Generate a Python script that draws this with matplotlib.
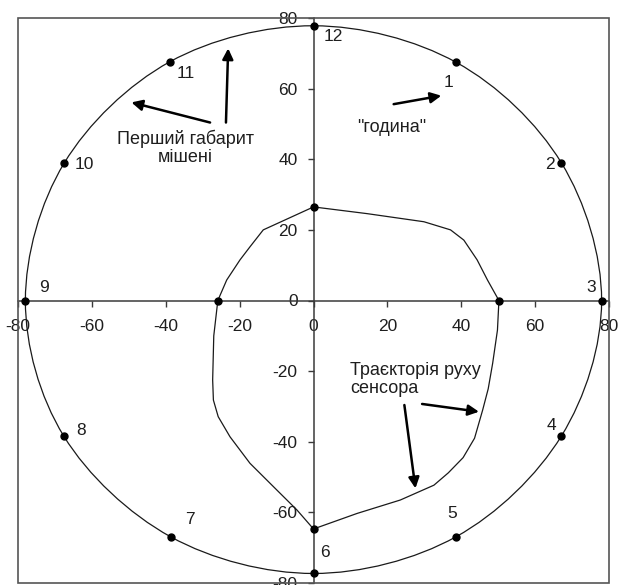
import matplotlib
matplotlib.use("Agg")
import matplotlib.pyplot as plt
from matplotlib.path import Path
from matplotlib.patches import PathPatch, Rectangle

plt.rcParams['font.family'] = ['Liberation Sans', 'DejaVu Sans']

# Target outline: one point per clock "hour"
hour_labels = ['12', '1', '2', '3', '4', '5', '6', '7', '8', '9', '10', '11']
hour_x = [0.0, 38.7, 67.1, 78.0, 67.1, 38.6, 0.0, -38.7, -67.6, -78.0, -67.5, -38.9]
hour_y = [77.8, 67.4, 39.0, 0.0, -38.4, -66.9, -77.3, -66.9, -38.4, 0.0, 38.9, 67.6]
# where each hour number is written
hour_text_x = [5.4, 36.5, 64.0, 75.1, 64.4, 37.6, 3.2, -33.5, -62.9, -73.0, -62.1, -34.5]
hour_text_y = [74.7, 61.7, 38.6, 3.6, -35.3, -60.3, -71.4, -62.0, -36.9, 3.6, 38.4, 64.3]

# Sensor path
traj_x = [0.0, 14.5, 29.9, 37.1, 40.7, 44.3, 47.1, 50.2, 49.8, 48.5, 47.3, 45.8,
          43.6, 40.5, 36.5, 32.6, 23.5, 11.8, 0.0, -4.5, -9.9, -17.2, -22.6,
          -25.8, -27.1, -27.3, -27.0, -25.9, -23.5, -19.9, -17.2, -13.6, 0.0]
traj_y = [26.5, 24.6, 22.3, 20.0, 17.1, 11.5, 5.8, 0.0, -8.4, -17.8, -25.0, -31.0,
          -39.0, -44.5, -48.8, -52.3, -56.5, -60.3, -64.7, -59.3, -53.7, -46.1, -38.6,
          -32.9, -28.2, -22.5, -10.0, 0.0, 5.8, 11.5, 15.2, 20.0, 26.5]
# marked crossings of the path with the axes
cross_x = [0.0, 50.2, 0.0, -25.9]
cross_y = [26.5, 0.0, -64.7, 0.0]

ticks = [-80, -60, -40, -20, 0, 20, 40, 60, 80]


def smooth_closed_path(xs, ys):
    """Closed Catmull-Rom curve through the points, as cubic Bezier segments."""
    n = len(xs)
    pts = list(zip(xs, ys))
    verts = [pts[0]]
    codes = [Path.MOVETO]
    for i in range(n):
        p0 = pts[(i - 1) % n]
        p1 = pts[i]
        p2 = pts[(i + 1) % n]
        p3 = pts[(i + 2) % n]
        c1 = (p1[0] + (p2[0] - p0[0]) / 6, p1[1] + (p2[1] - p0[1]) / 6)
        c2 = (p2[0] - (p3[0] - p1[0]) / 6, p2[1] - (p3[1] - p1[1]) / 6)
        verts += [c1, c2, p2]
        codes += [Path.CURVE4] * 3
    return Path(verts, codes)


fig = plt.figure(figsize=(6.19, 5.85), dpi=100)
ax = fig.add_axes([18 / 619, 2 / 585, 591 / 619, 565 / 585])
ax.set_xlim(-80, 80)
ax.set_ylim(-80, 80)

axis_color = '#3a3a3a'
text_color = '#1e1e1e'
for side in ('top', 'right'):
    ax.spines[side].set_visible(False)
for side in ('left', 'bottom'):
    ax.spines[side].set_position(('data', 0))
    ax.spines[side].set_color(axis_color)
    ax.spines[side].set_linewidth(1.1)
ax.add_patch(Rectangle((0, 0), 1, 1, transform=ax.transAxes, fill=False,
                       ec='#555555', lw=1.2, clip_on=False, zorder=5))

ax.set_xticks(ticks)
ax.set_yticks(ticks)
ax.set_xticklabels([str(t) for t in ticks])
ax.set_yticklabels([str(t) for t in ticks])
ax.tick_params(axis='x', direction='out', length=4.5, width=1, pad=9,
               labelsize=12.5, colors=axis_color, labelcolor=text_color)
ax.tick_params(axis='y', direction='out', length=4.5, width=1, pad=7,
               labelsize=12.5, colors=axis_color, labelcolor=text_color)
for lbl in ax.get_xticklabels() + ax.get_yticklabels():
    lbl.set_zorder(1)

# target outline
ax.add_patch(PathPatch(smooth_closed_path(hour_x, hour_y), fill=False,
                       ec='#1a1a1a', lw=0.9, zorder=3))
ax.plot(hour_x, hour_y, 'o', color='black', ms=5, zorder=4)
for lab, tx, ty in zip(hour_labels, hour_text_x, hour_text_y):
    ax.text(tx, ty, lab, fontsize=12.5, ha='center', va='center', color=text_color)

# sensor path
ax.plot(traj_x, traj_y, color='#1a1a1a', lw=0.9, zorder=3)
ax.plot(cross_x, cross_y, 'o', color='black', ms=5, zorder=4)

arrow = dict(arrowstyle='-|>', color='black', lw=1.8, mutation_scale=16,
             shrinkA=0, shrinkB=0)

# "година" callout
ax.text(21.1, 49.1, '"година"', fontsize=13, ha='center', va='center', color=text_color)
ax.annotate('', xy=(34.6, 58.0), xytext=(21.7, 55.6), arrowprops=arrow)

# outline callout
ax.text(-34.6, 43.3, 'Перший габарит\nмішені', fontsize=13, ha='center',
        va='center', linespacing=1.05, color=text_color)
ax.annotate('', xy=(-49.3, 56.1), xytext=(-28.0, 50.4), arrowprops=arrow)
ax.annotate('', xy=(-23.1, 71.4), xytext=(-23.7, 50.4), arrowprops=arrow)

# path callout
ax.text(9.9, -22.3, 'Траєкторія руху\nсенсора', fontsize=13, ha='left',
        va='center', linespacing=1.05, color=text_color)
ax.annotate('', xy=(44.8, -31.5), xytext=(29.4, -29.3), arrowprops=arrow)
ax.annotate('', xy=(27.6, -53.2), xytext=(24.6, -29.6), arrowprops=arrow)

fig.savefig('out.png', dpi=100)
